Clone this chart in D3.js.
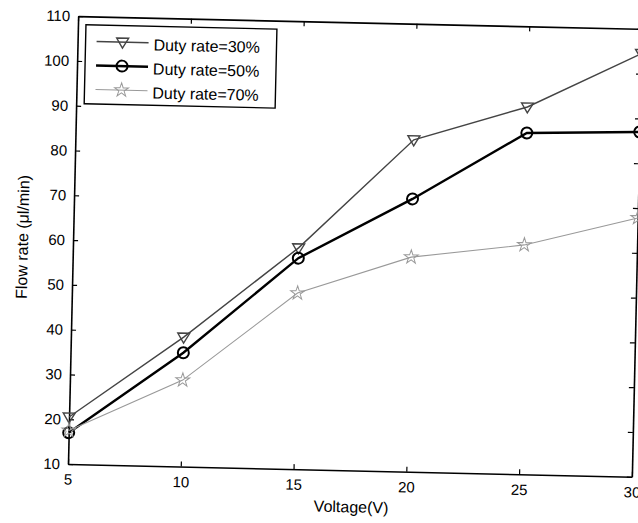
<!DOCTYPE html>
<html>
<head>
<meta charset="utf-8">
<script src="https://cdn.jsdelivr.net/npm/d3@7"></script>
<style>
  body { margin: 0; background: #fff; }
  text { font-family: "Liberation Sans", Arial, sans-serif; fill: #000; }
</style>
</head>
<body>
<div id="chart"></div>
<script>
// Data
const voltages = [5, 10, 15, 20, 25, 30];
const duty30 = [20.5, 38.9, 59.4, 84.1, 92.0, 104.5];
const duty50 = [17, 35.4, 57.1, 70.9, 86.2, 87.0];
const duty70 = [17.5, 29.3, 49.3, 57.9, 61.2, 67.8];
const seriesNames = ["Duty rate=30%", "Duty rate=50%", "Duty rate=70%"];
const xTicks = [5, 10, 15, 20, 25, 30];
const yTicks = [10, 20, 30, 40, 50, 60, 70, 80, 90, 100, 110];

const width = 638;
const height = 523;

// plot frame (the scan is tilted a little, so the whole plot gets rotated)
const plotLeft = 68, plotRight = 632, plotTop = 16, plotBottom = 464;
const tilt = 1.3;

const svg = d3.select("#chart")
  .append("svg")
  .attr("width", width)
  .attr("height", height);

const g = svg.append("g")
  .attr("transform", `rotate(${tilt}, ${plotLeft}, ${plotBottom})`);

const x = d3.scaleLinear().domain([5, 30]).range([plotLeft, plotRight]);
const y = d3.scaleLinear().domain([10, 110]).range([plotBottom, plotTop]);

// axes, ticks inward like MATLAB
g.append("g")
  .attr("transform", `translate(0,${plotBottom})`)
  .call(d3.axisBottom(x).tickValues(xTicks).tickSizeInner(-5).tickSizeOuter(0).tickPadding(10))
  .call(a => a.selectAll("text").style("font-size", "15px"));

g.append("g")
  .attr("transform", `translate(${plotLeft},0)`)
  .call(d3.axisLeft(y).tickValues(yTicks).tickSizeInner(-5).tickSizeOuter(0).tickPadding(8))
  .call(a => a.selectAll("text").style("font-size", "15px"));

g.append("g")
  .attr("transform", `translate(0,${plotTop})`)
  .call(d3.axisTop(x).tickValues(xTicks).tickSizeInner(-5).tickSizeOuter(0).tickFormat(""));

g.append("g")
  .attr("transform", `translate(${plotRight},0)`)
  .call(d3.axisRight(y).tickValues(yTicks).tickSizeInner(-5).tickSizeOuter(0).tickFormat(""));

g.selectAll(".domain").attr("stroke", "#000").attr("stroke-width", 1.6);
g.selectAll(".tick line").attr("stroke", "#000").attr("stroke-width", 1.2);

// axis titles
g.append("text")
  .attr("x", 352)
  .attr("y", 506)
  .attr("text-anchor", "middle")
  .style("font-size", "16px")
  .text("Voltage(V)");

g.append("text")
  .attr("transform", "translate(23,238) rotate(-90)")
  .attr("text-anchor", "middle")
  .style("font-size", "16px")
  .text("Flow rate (\u03bcl/min)");

// series styles
const styles = [
  { values: duty30, color: "#444", width: 1.4, symbol: "tri" },
  { values: duty50, color: "#000", width: 2.4, symbol: "circle" },
  { values: duty70, color: "#999", width: 1.1, symbol: "star" }
];

const line = d3.line()
  .x((d, i) => x(voltages[i]))
  .y(d => y(d));

function drawMarker(sel, s, px, py) {
  if (s.symbol === "tri") {
    sel.append("path")
      .attr("d", `M${px - 6},${py - 4} L${px + 6},${py - 4} L${px},${py + 6} Z`)
      .attr("fill", "none")
      .attr("stroke", s.color)
      .attr("stroke-width", 1.4);
  } else if (s.symbol === "circle") {
    sel.append("circle")
      .attr("cx", px).attr("cy", py).attr("r", 5.5)
      .attr("fill", "none")
      .attr("stroke", s.color)
      .attr("stroke-width", 2);
  } else {
    sel.append("path")
      .attr("transform", `translate(${px},${py})`)
      .attr("d", d3.symbol().type(d3.symbolStar).size(60)())
      .attr("fill", "none")
      .attr("stroke", s.color)
      .attr("stroke-width", 1);
  }
}

styles.forEach(s => {
  g.append("path")
    .datum(s.values)
    .attr("d", line)
    .attr("fill", "none")
    .attr("stroke", s.color)
    .attr("stroke-width", s.width);
  s.values.forEach((v, i) => drawMarker(g, s, x(voltages[i]), y(v)));
});

// legend
const legend = g.append("g");
legend.append("rect")
  .attr("x", 76).attr("y", 24.5)
  .attr("width", 191).attr("height", 79)
  .attr("fill", "#fff")
  .attr("stroke", "#000")
  .attr("stroke-width", 1.4);

seriesNames.forEach((name, i) => {
  const s = styles[i];
  const cy = 43 + i * 24;
  legend.append("line")
    .attr("x1", 87).attr("x2", 139)
    .attr("y1", cy - 2).attr("y2", cy - 2)
    .attr("stroke", s.color)
    .attr("stroke-width", s.width);
  drawMarker(legend, s, 113, cy - 2);
  legend.append("text")
    .attr("x", 144)
    .attr("y", cy)
    .attr("dy", "0.35em")
    .style("font-size", "16px")
    .text(name);
});
</script>
</body>
</html>
